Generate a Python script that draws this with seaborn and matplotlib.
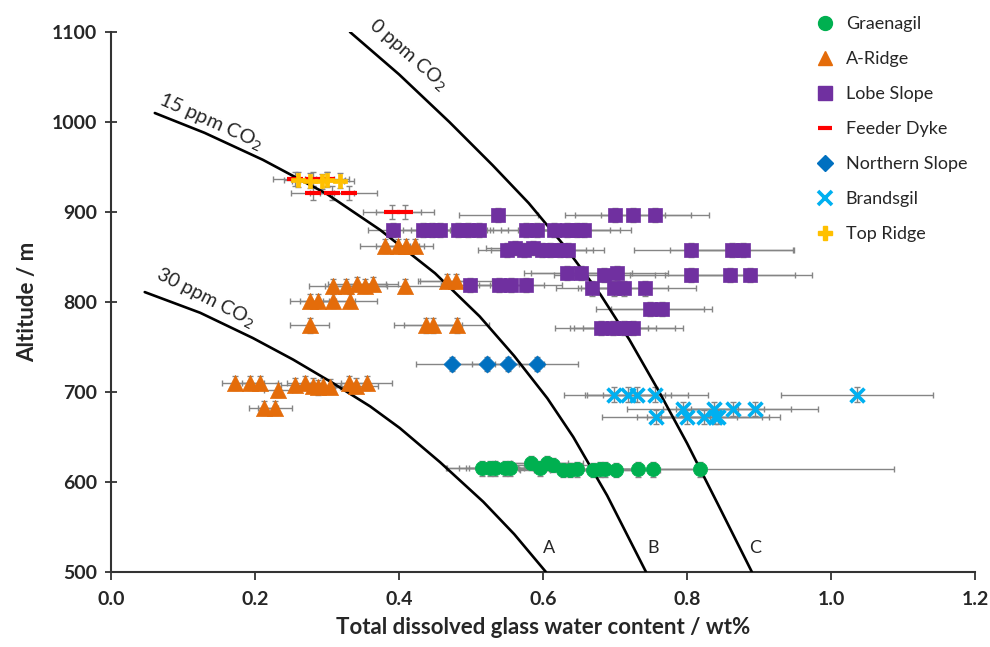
import matplotlib
matplotlib.use("Agg")
import matplotlib.pyplot as plt
from matplotlib.lines import Line2D
import seaborn as sns
import pandas as pd

sns.set_theme(style="ticks")
plt.rcParams['font.family'] = ['Lato', 'DejaVu Sans']

# ---------------- data ----------------
# solubility curves (water wt%, altitude m)
curveA_x = [0.047, 0.124, 0.197, 0.253, 0.308, 0.360, 0.401, 0.457, 0.517, 0.560, 0.604]
curveA_y = [811, 788, 760, 736, 710, 684, 660, 622, 578, 542, 500]
curveB_x = [0.061, 0.130, 0.211, 0.300, 0.374, 0.450, 0.512, 0.560, 0.606, 0.642, 0.689, 0.743]
curveB_y = [1010, 988, 958, 920, 880, 832, 784, 740, 693, 650, 585, 500]
curveC_x = [0.332, 0.400, 0.470, 0.530, 0.580, 0.630, 0.680, 0.720, 0.760, 0.800, 0.843, 0.890]
curveC_y = [1100, 1053, 1000, 952, 910, 862, 808, 758, 702, 643, 575, 500]

gr_x = [0.515, 0.526, 0.533, 0.547, 0.554, 0.584, 0.596, 0.605, 0.614, 0.628,
        0.637, 0.647, 0.670, 0.679, 0.686, 0.702, 0.732, 0.753, 0.818]
gr_y = [615, 615, 615, 615, 615, 621, 615, 621, 619, 613,
        613, 614, 613, 614, 614, 613, 614, 614, 614]
gr_e = [0.05, 0.06, 0.04, 0.05, 0.07, 0.05, 0.06, 0.05, 0.07, 0.06,
        0.05, 0.08, 0.06, 0.07, 0.05, 0.06, 0.08, 0.07, 0.27]

ar_x = [0.381, 0.398, 0.410, 0.422,
        0.308, 0.327, 0.342, 0.353, 0.364, 0.408, 0.467, 0.479,
        0.276, 0.288, 0.309, 0.332,
        0.276, 0.438, 0.447, 0.480,
        0.172, 0.193, 0.207, 0.232, 0.256, 0.269, 0.281, 0.288, 0.294, 0.304, 0.330, 0.341, 0.355,
        0.212, 0.228]
ar_y = [862, 862, 862, 862,
        818, 818, 820, 818, 820, 818, 823, 823,
        801, 801, 801, 801,
        774, 774, 774, 774,
        710, 710, 710, 702, 708, 710, 707, 705, 707, 706, 710, 707, 710,
        682, 682]
ar_e = [0.035, 0.03, 0.025, 0.025,
        0.033, 0.03, 0.04, 0.03, 0.035, 0.05, 0.04, 0.05,
        0.027, 0.025, 0.03, 0.038,
        0.027, 0.045, 0.04, 0.045,
        0.018, 0.02, 0.025, 0.02, 0.02, 0.025, 0.03, 0.03, 0.025, 0.03, 0.025, 0.03, 0.035,
        0.02, 0.024]

ls_x = [0.538, 0.700, 0.725, 0.756,
        0.392, 0.434, 0.446, 0.457, 0.482, 0.496, 0.511, 0.577, 0.592, 0.615, 0.633, 0.647, 0.657,
        0.550, 0.561, 0.573, 0.586, 0.598, 0.610, 0.624, 0.634, 0.806, 0.862, 0.878,
        0.633, 0.653, 0.685, 0.703, 0.806, 0.860, 0.888,
        0.499, 0.539, 0.556, 0.576,
        0.668, 0.698, 0.713, 0.742,
        0.749, 0.765,
        0.681, 0.697, 0.713, 0.725]
ls_y = [897, 897, 897, 897,
        880, 880, 880, 880, 880, 880, 880, 880, 880, 880, 880, 880, 880,
        858, 860, 858, 860, 858, 858, 858, 858, 858, 858, 858,
        832, 832, 830, 832, 830, 830, 830,
        819, 819, 819, 819,
        815, 815, 815, 815,
        792, 792,
        771, 771, 771, 771]
ls_e = [0.055, 0.07, 0.08, 0.075,
        0.035, 0.04, 0.04, 0.04, 0.04, 0.035, 0.04, 0.05, 0.05, 0.05, 0.06, 0.06, 0.065,
        0.04, 0.04, 0.045, 0.04, 0.04, 0.05, 0.045, 0.05, 0.08, 0.085, 0.07,
        0.06, 0.07, 0.07, 0.07, 0.085, 0.09, 0.085,
        0.04, 0.04, 0.045, 0.05,
        0.05, 0.05, 0.06, 0.07,
        0.075, 0.07,
        0.065, 0.06, 0.07, 0.07]

fd_x = [0.255, 0.280, 0.300, 0.280, 0.307, 0.330, 0.390, 0.408]
fd_y = [937, 937, 937, 921, 921, 921, 900, 900]
fd_e = [0.03, 0.03, 0.03, 0.03, 0.03, 0.04, 0.04, 0.04]

ns_x = [0.473, 0.522, 0.552, 0.591]
ns_y = [731, 731, 731, 731]
ns_e = [0.05, 0.045, 0.05, 0.058]

bg_x = [0.699, 0.718, 0.731, 0.756, 1.036,
        0.794, 0.837, 0.864, 0.894,
        0.757, 0.800, 0.824, 0.839, 0.843]
bg_y = [697, 697, 697, 697, 697,
        681, 681, 681, 681,
        672, 672, 672, 672, 672]
bg_e = [0.07, 0.06, 0.07, 0.073, 0.105,
        0.077, 0.07, 0.08, 0.088,
        0.075, 0.07, 0.08, 0.075, 0.086]

tr_x = [0.260, 0.276, 0.293, 0.300, 0.318]
tr_y = [936, 935, 934, 936, 935]
tr_e = [0.02, 0.025, 0.03, 0.025, 0.02]

series = [
    ("Graenagil", gr_x, gr_y, gr_e, "o", "#00B050", 105),
    ("A-Ridge", ar_x, ar_y, ar_e, "^", "#E46C0A", 135),
    ("Lobe Slope", ls_x, ls_y, ls_e, "s", "#7030A0", 90),
    ("Feeder Dyke", fd_x, fd_y, fd_e, "_", "#FF0000", 140),
    ("Northern Slope", ns_x, ns_y, ns_e, "D", "#0070C0", 75),
    ("Brandsgil", bg_x, bg_y, bg_e, "x", "#00B0F0", 100),
    ("Top Ridge", tr_x, tr_y, tr_e, "P", "#FFC000", 100),
]

# ---------------- figure ----------------
fig = plt.figure(figsize=(9.9, 6.47), dpi=100)
ax = fig.add_axes([0.112, 0.116, 0.873, 0.8345])

for cx, cy in [(curveA_x, curveA_y), (curveB_x, curveB_y), (curveC_x, curveC_y)]:
    sns.lineplot(x=cx, y=cy, sort=False, estimator=None, color="black",
                 linewidth=1.9, ax=ax, zorder=4)

handles = []
for name, xs, ys, es, mk, col, s in series:
    df = pd.DataFrame({"x": xs, "y": ys, "e": es})
    ax.errorbar(df["x"], df["y"], xerr=df["e"], yerr=8, fmt="none",
                ecolor="#858585", elinewidth=1, capsize=2.5, capthick=1, zorder=2)
    if mk in ("_", "x"):
        sns.scatterplot(data=df, x="x", y="y", marker=mk, color=col, s=s,
                        linewidth=3 if mk == "_" else 2.6, ax=ax, zorder=5, legend=False)
        h = Line2D([], [], linestyle="none", marker=mk, color=col,
                   markersize=10, markeredgewidth=3 if mk == "_" else 2.6)
    else:
        sns.scatterplot(data=df, x="x", y="y", marker=mk, color=col, s=s,
                        edgecolor=col, linewidth=0.5, ax=ax, zorder=5, legend=False)
        h = Line2D([], [], linestyle="none", marker=mk, color=col,
                   markeredgecolor=col, markersize=10 if mk != "D" else 8)
    handles.append((h, name))

# curve labels
ax.text(0.4125, 1075, "0 ppm CO$_2$", rotation=-41, ha="center", va="center",
        rotation_mode="anchor", fontsize=14)
ax.text(0.139, 1000, "15 ppm CO$_2$", rotation=-24, ha="center", va="center",
        rotation_mode="anchor", fontsize=14.5)
ax.text(0.131, 804, "30 ppm CO$_2$", rotation=-27, ha="center", va="center",
        rotation_mode="anchor", fontsize=14)
for lab, lx in [("A", 0.608), ("B", 0.753), ("C", 0.894)]:
    ax.text(lx, 527, lab, ha="center", va="center", fontsize=13)

ax.set_xlim(0, 1.2)
ax.set_ylim(500, 1100)
ax.set_xticks([0.0, 0.2, 0.4, 0.6, 0.8, 1.0, 1.2])
ax.set_xticklabels([f"{v:.1f}" for v in [0.0, 0.2, 0.4, 0.6, 0.8, 1.0, 1.2]],
                   fontweight="bold", fontsize=14)
ax.set_yticks(range(500, 1101, 100))
ax.set_yticklabels([str(v) for v in range(500, 1101, 100)], fontweight="bold", fontsize=14)
ax.tick_params(axis="x", direction="out", length=6, width=1.3, color="#333333", pad=8)
ax.tick_params(axis="y", direction="inout", length=8, width=1.3, color="#333333", pad=6)
for sp in ["top", "right"]:
    ax.spines[sp].set_visible(False)
for sp in ["left", "bottom"]:
    ax.spines[sp].set_linewidth(1.5)
    ax.spines[sp].set_color("#333333")

ax.set_xlabel("Total dissolved glass water content / wt%", fontweight="bold",
              fontsize=16, labelpad=6)
ax.set_ylabel("Altitude / m", fontweight="bold", fontsize=16, labelpad=10)

fig.legend([h for h, _ in handles], [n for _, n in handles], loc="upper left",
           bbox_to_anchor=(0.806, 1.0), frameon=False, fontsize=13,
           labelspacing=1.05, handletextpad=0.55, handlelength=1.2)

fig.savefig("out.png", dpi=100)
